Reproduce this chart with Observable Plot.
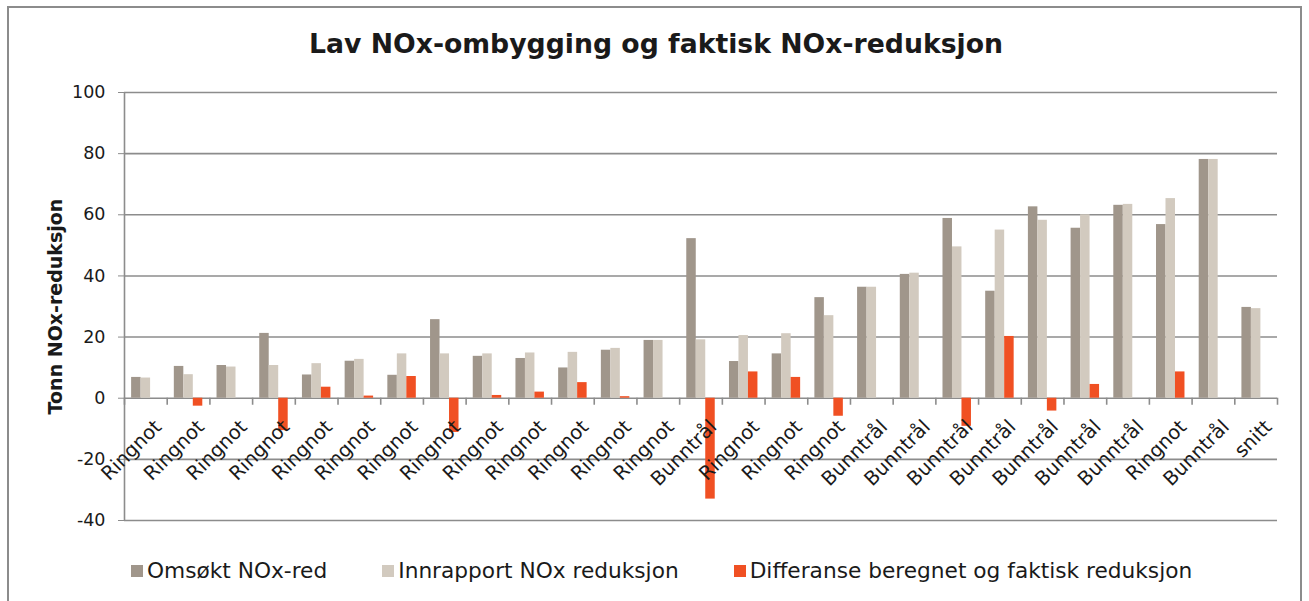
<!DOCTYPE html>
<html>
<head>
<meta charset="utf-8">
<script src="https://cdn.jsdelivr.net/npm/d3@7"></script>
<script src="https://cdn.jsdelivr.net/npm/@observablehq/plot@0.6"></script>
<style>
  html, body { margin: 0; padding: 0; background: #fff; }
  #wrap { position: relative; width: 1309px; height: 601px; overflow: hidden; background: #fff; font-family: "DejaVu Sans", Verdana, sans-serif; color: #1a1a1a; }
  #border { position: absolute; left: 7px; top: 6px; width: 1295px; height: 640px; border: 2px solid #8c8c8c; box-sizing: border-box; }
  #title { position: absolute; left: 0; top: 29px; width: 1312px; text-align: center; font-size: 26.7px; font-weight: bold; line-height: 30px; }
  #chart { position: absolute; left: 0; top: 0; }
  #legend { position: absolute; left: 131px; top: 558px; display: flex; gap: 55px; font-size: 21.7px; line-height: 26px; }
  .item { display: flex; align-items: center; }
  .sw { width: 12px; height: 12px; margin-right: 4px; display: inline-block; }
</style>
</head>
<body>
<div id="wrap">
  <div id="border"></div>
  <div id="title"></div>
  <div id="chart"></div>
  <div id="legend"></div>
</div>
<script>
const chartTitle = "Lav NOx-ombygging og faktisk NOx-reduksjon";
const yLabel = "Tonn NOx-reduksjon";

const categories = [
  "Ringnot","Ringnot","Ringnot","Ringnot","Ringnot","Ringnot","Ringnot",
  "Ringnot","Ringnot","Ringnot","Ringnot","Ringnot","Ringnot","Bunntrål",
  "Ringnot","Ringnot","Ringnot","Bunntrål","Bunntrål","Bunntrål","Bunntrål",
  "Bunntrål","Bunntrål","Bunntrål","Ringnot","Bunntrål","snitt"
];
const omsokt = [6.8, 10.4, 10.7, 21.2, 7.6, 12.1, 7.5, 25.7, 13.7, 13.0, 9.9, 15.7, 18.9, 52.2,
  12.0, 14.5, 32.9, 36.3, 40.5, 58.8, 35.0, 62.6, 55.6, 63.1, 56.8, 78.1, 29.7];
const innrapport = [6.6, 7.7, 10.2, 10.7, 11.3, 12.7, 14.5, 14.5, 14.5, 14.8, 15.0, 16.3, 18.9, 19.1,
  20.5, 21.1, 27.0, 36.3, 40.9, 49.5, 55.0, 58.2, 60.0, 63.4, 65.3, 78.1, 29.3];
const differanse = [0, -2.6, 0, -10.6, 3.6, 0.7, 7.1, -11.2, 0.9, 2.0, 5.1, 0.5, 0, -33.0,
  8.6, 6.8, -5.9, 0, 0, -9.2, 20.2, -4.2, 4.5, 0, 8.6, 0, 0];

const seriesNames = ["Omsøkt NOx-red", "Innrapport NOx reduksjon", "Differanse beregnet og faktisk reduksjon"];
const seriesValues = [omsokt, innrapport, differanse];
const seriesColors = ["#a0968b", "#d2cabf", "#f05023"];
const yTicks = [-40, -20, 0, 20, 40, 60, 80, 100];

// Excel-like clustered layout: gap width 150% => bar width = 1/(3+1.5) of a category
const barW = 1 / 4.5;
const rows = [];
seriesValues.forEach((vals, s) => {
  vals.forEach((v, i) => {
    const x1 = i + 0.5 + (s - 1.5) * barW;
    rows.push({i, s, v, x1, x2: x1 + barW});
  });
});
const boundaries = d3.range(0, categories.length + 1);

document.getElementById("title").textContent = chartTitle;

const plot = Plot.plot({
  width: 1309,
  height: 545,
  marginTop: 92,
  marginBottom: 25,
  marginLeft: 124,
  marginRight: 32,
  style: {fontFamily: "DejaVu Sans, Verdana, sans-serif", color: "#1a1a1a", background: "transparent", overflow: "visible"},
  x: {type: "linear", domain: [0, categories.length], axis: null},
  y: {domain: [-40, 100], axis: null},
  color: {domain: [0, 1, 2], range: seriesColors},
  marks: [
    Plot.ruleY(yTicks, {stroke: "#8c8c8c", strokeWidth: 1.6}),
    Plot.ruleX([0], {y1: -40, y2: 100, stroke: "#8c8c8c", strokeWidth: 1.6}),
    Plot.axisY({ticks: yTicks, tickSize: 6, tickPadding: 13, fontSize: 17.5, tickFormat: d => String(d), label: null, stroke: "#8c8c8c"}),
    Plot.rectY(rows, {x1: "x1", x2: "x2", y1: 0, y2: "v", fill: d => d.s}),
    Plot.ruleX(boundaries, {y1: 0, y2: -2.3, stroke: "#8c8c8c", strokeWidth: 1.6}),
    Plot.text(categories, {x: (d, i) => i + 0.5, y: 0, text: d => d, rotate: -45, textAnchor: "end", lineAnchor: "top", dx: 7, dy: 20, fontSize: 19.5, fill: "#1a1a1a"}),
    Plot.text([yLabel], {frameAnchor: "left", textAnchor: "middle", rotate: -90, dx: -69, fontSize: 19, fontWeight: "bold", fill: "#1a1a1a"})
  ]
});
document.getElementById("chart").appendChild(plot);

const legend = document.getElementById("legend");
seriesNames.forEach((name, s) => {
  const item = document.createElement("div");
  item.className = "item";
  const sw = document.createElement("span");
  sw.className = "sw";
  sw.style.background = seriesColors[s];
  const t = document.createElement("span");
  t.textContent = name;
  item.appendChild(sw);
  item.appendChild(t);
  legend.appendChild(item);
});
</script>
</body>
</html>
